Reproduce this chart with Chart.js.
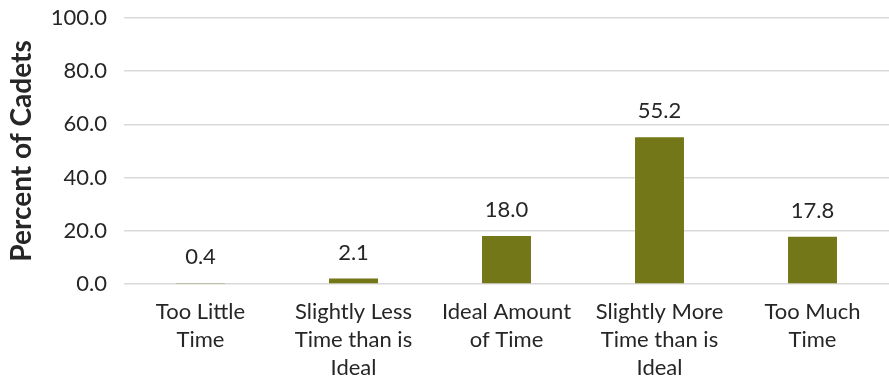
<!DOCTYPE html>
<html>
<head>
<meta charset="utf-8">
<script src="https://cdn.jsdelivr.net/npm/chart.js@4/dist/chart.umd.min.js"></script>
<style>
  html, body { margin: 0; padding: 0; background: #ffffff; }
  #wrap { width: 889px; height: 379px; position: relative; }
</style>
</head>
<body>
<div id="wrap"><canvas id="c"></canvas></div>
<script>
// Responses: how cadets rated the amount of time
const categories = [
  ["Too Little", "Time"],
  ["Slightly Less", "Time than is", "Ideal"],
  ["Ideal Amount", "of Time"],
  ["Slightly More", "Time than is", "Ideal"],
  ["Too Much", "Time"]
];
const percentCadets = [0.4, 2.1, 18.0, 55.2, 17.8];
const yTicks = [0, 20, 40, 60, 80, 100];

const FONT = "Lato, 'Open Sans', sans-serif";
const TEXT = "#262626";

// Prints each bar's value just above it
const valueLabels = {
  id: "valueLabels",
  afterDatasetsDraw(chart) {
    const ctx = chart.ctx;
    const meta = chart.getDatasetMeta(0);
    ctx.save();
    ctx.font = "22px " + FONT;
    ctx.fillStyle = TEXT;
    ctx.textAlign = "center";
    ctx.textBaseline = "middle";
    meta.data.forEach((bar, i) => {
      ctx.fillText(percentCadets[i].toFixed(1), bar.x, bar.y - 26);
    });
    ctx.restore();
  }
};

new Chart(document.getElementById("c"), {
  type: "bar",
  data: {
    labels: categories,
    datasets: [{
      data: percentCadets,
      backgroundColor: "#737717",
      borderWidth: 0,
      categoryPercentage: 1.0,
      barPercentage: 0.32
    }]
  },
  options: {
    responsive: true,
    maintainAspectRatio: false,
    animation: false,
    layout: { padding: { top: 18, right: 0, left: 0, bottom: 0 } },
    plugins: { legend: { display: false }, tooltip: { enabled: false } },
    scales: {
      x: {
        grid: { display: false },
        border: { display: false },
        ticks: {
          color: TEXT,
          font: { family: FONT, size: 22, lineHeight: 1.27 },
          maxRotation: 0,
          autoSkip: false,
          padding: 6
        },
        afterFit(scale) { scale.height = 95; }
      },
      y: {
        min: 0,
        max: 100,
        afterBuildTicks(scale) { scale.ticks = yTicks.map(v => ({ value: v })); },
        grid: { color: "#d9d9d9", lineWidth: 1.5, drawTicks: false },
        border: { display: false },
        ticks: {
          color: TEXT,
          font: { family: FONT, size: 22 },
          padding: 17,
          callback: v => Number(v).toFixed(1)
        },
        title: {
          display: true,
          text: "Percent of Cadets",
          color: TEXT,
          font: { family: FONT, size: 28, weight: "bold" },
          padding: { top: 5, bottom: 0 }
        },
        afterFit(scale) {
          scale.width = 124;
          scale.paddingTop = 0;
          scale.paddingBottom = 0;
        }
      }
    }
  },
  plugins: [valueLabels]
});
</script>
</body>
</html>
